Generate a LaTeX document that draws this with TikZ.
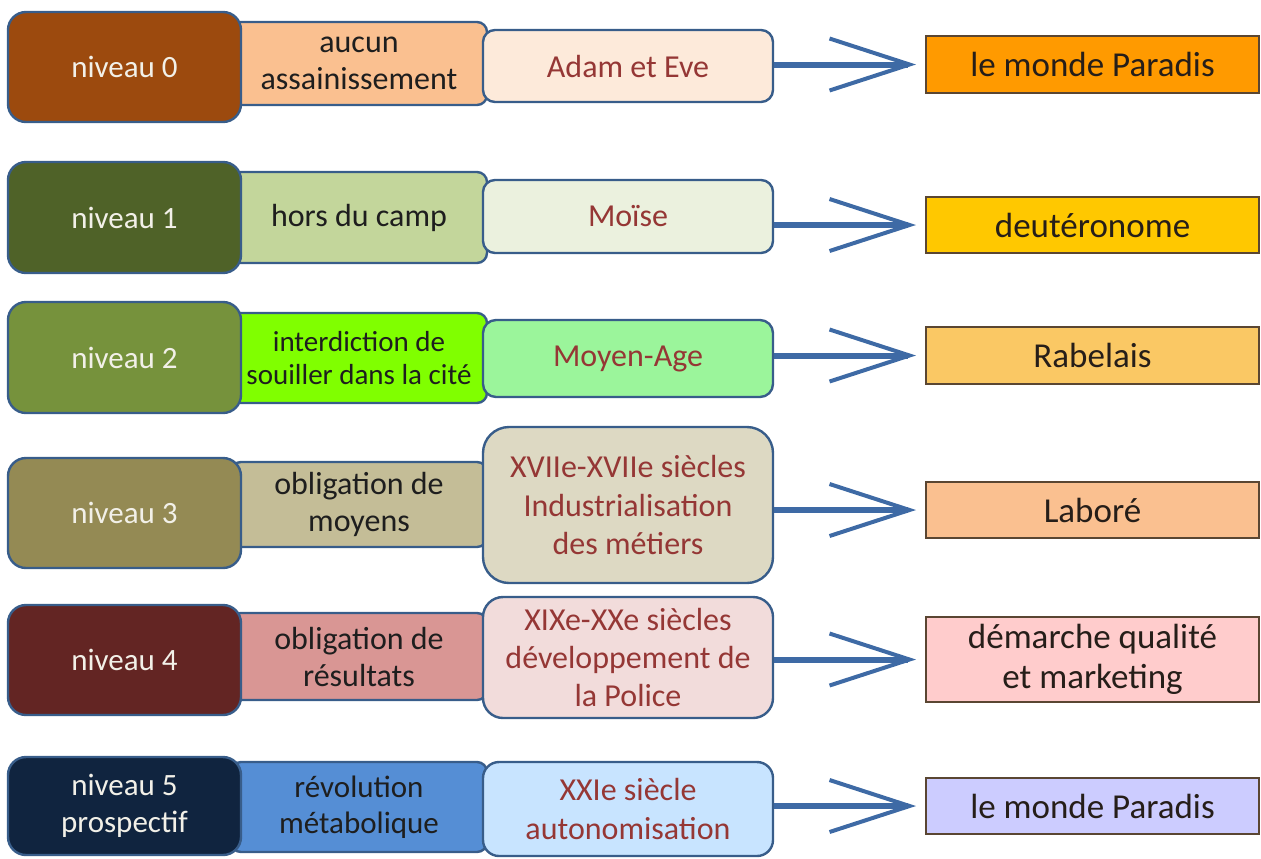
\documentclass[tikz,border=0pt]{standalone}
\usepackage{fontspec}
\setmainfont{Carlito}
\usepackage{xcolor}
\usepackage{tikz}
\usetikzlibrary{arrows.meta,positioning}
\definecolor{framec}{RGB}{56,93,138}
\definecolor{resframe}{RGB}{90,70,50}
\definecolor{flowc}{RGB}{62,106,165}
\definecolor{lvltext}{RGB}{242,240,232}
\definecolor{crittext}{RGB}{30,30,30}
\definecolor{eratext}{RGB}{149,55,53}
\definecolor{restext}{RGB}{38,30,25}
% level colours, row by row
\definecolor{lvlA}{RGB}{156,74,14}
\definecolor{lvlB}{RGB}{79,98,40}
\definecolor{lvlC}{RGB}{118,146,60}
\definecolor{lvlD}{RGB}{148,138,84}
\definecolor{lvlE}{RGB}{99,37,35}
\definecolor{lvlF}{RGB}{16,36,63}
\definecolor{critA}{RGB}{250,192,144}
\definecolor{critB}{RGB}{195,214,155}
\definecolor{critC}{RGB}{128,255,0}
\definecolor{critD}{RGB}{196,189,151}
\definecolor{critE}{RGB}{217,150,148}
\definecolor{critF}{RGB}{85,142,213}
\definecolor{eraA}{RGB}{253,234,218}
\definecolor{eraB}{RGB}{235,241,222}
\definecolor{eraC}{RGB}{155,245,155}
\definecolor{eraD}{RGB}{221,217,195}
\definecolor{eraE}{RGB}{242,220,219}
\definecolor{eraF}{RGB}{200,228,255}
\definecolor{resA}{RGB}{255,154,0}
\definecolor{resB}{RGB}{255,200,0}
\definecolor{resC}{RGB}{250,200,100}
\definecolor{resD}{RGB}{250,192,144}
\definecolor{resE}{RGB}{255,204,204}
\definecolor{resF}{RGB}{204,204,255}

\begin{document}
\begin{tikzpicture}[x=0.5pt,y=-0.5pt,
  lvlbox/.style={draw=framec,line width=1.2pt,rounded corners=9pt,minimum width=116.5pt,inner sep=0pt,align=center,text=lvltext,font=\fontsize{15.5}{18.5}\selectfont},
  critbox/.style={draw=framec,line width=1.2pt,rounded corners=5pt,minimum width=128pt,inner sep=0pt,align=center,text=crittext,font=\fontsize{16}{18.5}\selectfont},
  erabox/.style={draw=framec,line width=1.2pt,minimum width=145pt,inner sep=0pt,align=center,text=eratext,font=\fontsize{16}{19.2}\selectfont},
  resbox/.style={draw=resframe,line width=1pt,minimum width=166.5pt,inner sep=0pt,align=center,text=restext,font=\fontsize{17.5}{20}\selectfont},
  flow/.style={line width=3pt,draw=flowc,shorten >=4.5pt,-{Straight Barb[length=40pt,width=26pt,line width=2pt]}}]
\useasboundingbox (0,0) rectangle (1261,858);

% row 0
\node[critbox,fill=critA,minimum height=41.5pt] (crit0) at (359,63.5) {aucun\\assainissement};
\node[lvlbox,fill=lvlA,minimum height=55pt] (lvl0) at (124.5,67) {niveau 0};
\node[erabox,fill=eraA,rounded corners=6pt,minimum height=36pt] (era0) at (628,66) {Adam et Eve};
\node[resbox,fill=resA,minimum height=28.5pt] (res0) at (1092.5,64.5) {le monde Paradis};

% row 1
\node[critbox,fill=critB,minimum height=45.5pt] (crit1) at (359,217.5) {hors du camp};
\node[lvlbox,fill=lvlB,minimum height=55.5pt] (lvl1) at (124.5,217.5) {niveau 1};
\node[erabox,fill=eraB,rounded corners=6pt,minimum height=36.5pt] (era1) at (628,216.5) {Moïse};
\node[resbox,fill=resB,minimum height=28pt] (res1) at (1092.5,225) {deutéronome};

% row 2 (smaller text, it is the longest)
\node[critbox,fill=critC,minimum height=45pt,font=\fontsize{14.5}{16.5}\selectfont] (crit2) at (359,358) {interdiction de\\souiller dans la cité};
\node[lvlbox,fill=lvlC,minimum height=55.5pt] (lvl2) at (124.5,357.5) {niveau 2};
\node[erabox,fill=eraC,rounded corners=6.5pt,minimum height=38.5pt] (era2) at (628,358.5) {Moyen-Age};
\node[resbox,fill=resC,minimum height=28.5pt] (res2) at (1092.5,355.5) {Rabelais};

% row 3
\node[critbox,fill=critD,minimum height=42.5pt] (crit3) at (359,504.5) {obligation de\\moyens};
\node[lvlbox,fill=lvlD,minimum height=55pt] (lvl3) at (124.5,513) {niveau 3};
\node[erabox,fill=eraD,rounded corners=13pt,minimum height=78pt] (era3) at (628,505) {XVIIe-XVIIe siècles\\Industrialisation\\des métiers};
\node[resbox,fill=resD,minimum height=28pt] (res3) at (1092.5,510) {Laboré};

% row 4
\node[critbox,fill=critE,minimum height=43.5pt] (crit4) at (359,656.5) {obligation de\\résultats};
\node[lvlbox,fill=lvlE,minimum height=55pt] (lvl4) at (124.5,660) {niveau 4};
\node[erabox,fill=eraE,rounded corners=10pt,minimum height=60.5pt] (era4) at (628,657.5) {XIXe-XXe siècles\\développement de\\la Police};
\node[resbox,fill=resE,minimum height=42.5pt] (res4) at (1092.5,659.5) {démarche qualité\\et marketing};

% row 5
\node[critbox,fill=critF,minimum height=45pt,font=\fontsize{15.5}{18}\selectfont] (crit5) at (359,807) {révolution\\métabolique};
\node[lvlbox,fill=lvlF,minimum height=49pt] (lvl5) at (124.5,806) {niveau 5\\prospectif};
\node[erabox,fill=eraF,rounded corners=8pt,minimum height=47pt] (era5) at (628,809) {XXIe siècle\\autonomisation};
\node[resbox,fill=resF,minimum height=28pt] (res5) at (1092.5,806) {le monde Paradis};

\foreach \i in {0,...,5}
  \draw[flow] (era\i.east |- res\i.west) -- (res\i.west);
\end{tikzpicture}
\end{document}
